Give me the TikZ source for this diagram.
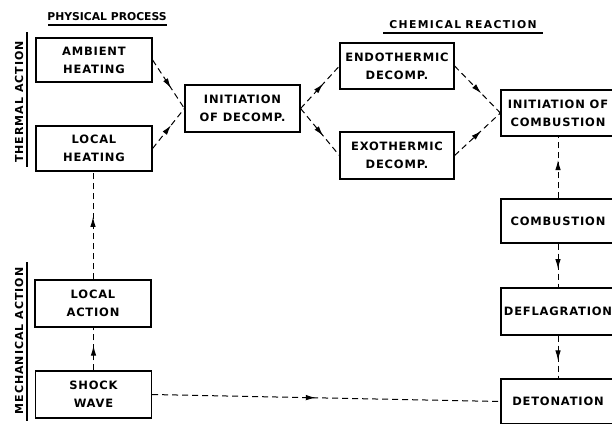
\documentclass[tikz,border=0pt]{standalone}
\usepackage{fontspec}
\usetikzlibrary{arrows.meta,decorations.markings}
\newfontfamily\lblfont[LetterSpace=7]{DejaVu Sans}
\newfontfamily\sidefont[LetterSpace=9]{DejaVu Sans}
\newfontfamily\headfont{DejaVu Sans}
\newfontfamily\chemfont[LetterSpace=13]{DejaVu Sans}
\tikzset{
  boxnode/.style={draw, line width=1.2pt, align=center, inner sep=1pt,
    font=\lblfont\bfseries\fontsize{11.5}{18}\selectfont},
  leftbox/.style={boxnode, minimum width=116pt, minimum height=46pt},
  rightbox/.style={boxnode, minimum width=114pt, minimum height=46pt},
  flow/.style={line width=1pt, dash pattern=on 6pt off 4pt,
    postaction={decorate},
    decoration={markings, mark=at position #1 with {\arrow{Latex[length=10pt,width=5.5pt]}}}},
  flow/.default=0.58,
  headlbl/.style={inner sep=1pt, font=\headfont\bfseries\fontsize{10.8}{12}\selectfont},
  chemlbl/.style={inner sep=1pt, font=\chemfont\bfseries\fontsize{10.8}{12}\selectfont},
  sidelbl/.style={inner sep=1pt, rotate=90, font=\sidefont\bfseries\fontsize{11}{12}\selectfont},
  rule/.style={line width=1.1pt}
}
\begin{document}
\begin{tikzpicture}[x=1pt,y=-1pt]
\useasboundingbox (0,0) rectangle (612,423);
\clip (0,0) rectangle (612,423);

% headings
\node[headlbl] (ph) at (107,17) {PHYSICAL PROCESS};
\draw[rule] (48,25) -- (167,25);
\node[chemlbl] (cr) at (463,24.5) {CHEMICAL\hspace{4pt}REACTION};
\draw[rule] (383,33) -- (543,33);

% side labels
\node[sidelbl] (ta) at (19,102) {THERMAL ACTION};
\draw[rule] (27,32) -- (27,167);
\node[sidelbl] (ma) at (19,341) {MECHANICAL\hspace{5pt}ACTION};
\draw[rule] (27,262) -- (27,421);

% boxes
\node[leftbox, minimum height=44pt] (amb) at (94,60) {AMBIENT\\HEATING};
\node[leftbox, minimum height=45pt] (lh) at (94,148.5) {LOCAL\\HEATING};
\node[boxnode, minimum width=115pt, minimum height=47pt] (dec) at (242.5,108.5) {INITIATION\\OF DECOMP.};
\node[rightbox] (endo) at (397,66) {ENDOTHERMIC\\DECOMP.};
\node[rightbox, minimum height=47pt] (exo) at (397,155.5) {EXOTHERMIC\\DECOMP.};
\node[rightbox] (ic) at (558,113) {INITIATION OF\\COMBUSTION};
\node[rightbox, minimum height=44pt] (comb) at (558,221) {COMBUSTION};
\node[rightbox, minimum height=47pt] (defl) at (558,311.5) {DEFLAGRATION};
\node[rightbox, minimum height=45pt] (det) at (558,401.5) {DETONATION};
\node[leftbox, minimum height=47pt] (la) at (93,303.5) {LOCAL\\ACTION};
\node[leftbox, minimum height=47pt] (sw) at (93.5,394.5) {SHOCK\\WAVE};

% connectors
\draw[flow] (amb.east) -- (dec.west);
\draw[flow] (lh.east) -- (dec.west);
\draw[flow] (dec.east) -- (endo.west);
\draw[flow] (dec.east) -- (exo.west);
\draw[flow] (endo.east) -- (ic.west);
\draw[flow] (exo.east) -- (ic.west);
\draw[flow=0.62] (comb.north) -- (ic.south);
\draw[flow] (comb.south) -- (defl.north);
\draw[flow] (defl.south) -- (det.north);
\draw[flow=0.47] (sw.east) -- (det.west);
\draw[flow] (sw.north) -- (sw.north |- la.south);
\draw[flow] (la.north) -- (la.north |- lh.south);
\end{tikzpicture}
\end{document}
